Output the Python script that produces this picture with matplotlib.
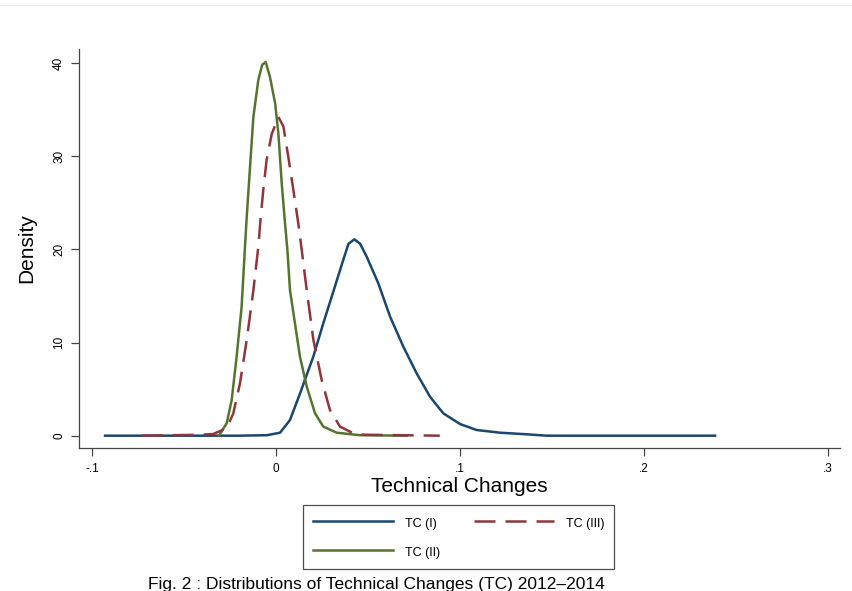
import numpy as np
import matplotlib
matplotlib.use("Agg")
import matplotlib.pyplot as plt
from matplotlib.lines import Line2D

plt.rcParams['font.family'] = ['Liberation Sans', 'DejaVu Sans']

# kernel density curves
tc1_x = [-0.0929, -0.02, -0.005, 0.0022, 0.0076, 0.013, 0.0203, 0.0257, 0.0312,
         0.0366, 0.0394, 0.0426, 0.0457, 0.0493, 0.0556, 0.062, 0.0692, 0.0764,
         0.0837, 0.0909, 0.1, 0.109, 0.1217, 0.1362, 0.147, 0.2386]
tc1_y = [0, 0, 0.05, 0.32, 1.68, 4.5, 8.5, 12.06, 15.5, 18.9, 20.6, 21.07, 20.6,
         19.2, 16.35, 12.77, 9.55, 6.7, 4.18, 2.4, 1.25, 0.61, 0.32, 0.15, 0, 0]

tc2_x = [-0.031, -0.0268, -0.0241, -0.0214, -0.0187, -0.0168, -0.0159, -0.0141,
         -0.0123, -0.0096, -0.0075, -0.0056, -0.0033, -0.0005, 0.0013, 0.0031,
         0.0049, 0.0062, 0.0076, 0.0103, 0.013, 0.0167, 0.0212, 0.0257, 0.033,
         0.0457, 0.071]
tc2_y = [0, 1.33, 3.8, 8.5, 13.8, 20.5, 23.5, 28.9, 34.2, 38.2, 39.8, 40.1, 38.5,
         35.7, 32.4, 27.1, 22.8, 19.9, 15.6, 12.06, 8.5, 5.26, 2.4, 0.97, 0.32,
         0.05, 0]

tc3_x = [-0.073, -0.0413, -0.0341, -0.0268, -0.0232, -0.0196, -0.0159, -0.0123,
         -0.0096, -0.0083, -0.0069, -0.0051, -0.0023, 0.0013, 0.004, 0.0067,
         0.0094, 0.0121, 0.014, 0.0167, 0.0203, 0.0248, 0.0293, 0.0348, 0.042,
         0.048, 0.089]
tc3_y = [0, 0.1, 0.18, 0.8, 2.4, 5.6, 10.3, 15.6, 20.3, 23.5, 26.4, 29.6, 32.4,
         34.2, 33.2, 29.9, 26.4, 22.8, 19.9, 15.6, 10.3, 6.0, 2.76, 0.97, 0.26,
         0.1, 0]

x_ticks = [-0.1, 0, 0.1, 0.2, 0.3]
x_labels = ['-.1', '0', '.1', '.2', '.3']
y_ticks = [0, 10, 20, 30, 40]

navy = '#1a476f'
maroon = '#90353b'
green = '#55752f'

fig = plt.figure(figsize=(8.53, 5.91), dpi=100)
ax = fig.add_axes([0.0926, 0.2420, 0.8922, 0.6751])

ax.plot(tc1_x, tc1_y, color=navy, lw=1.8, label='TC (I)')
ax.plot(tc2_x, tc2_y, color=green, lw=1.8, label='TC (II)')
ax.plot(tc3_x, tc3_y, color=maroon, lw=1.8, dashes=(8.4, 4), label='TC (III)')

ax.set_xlim(-0.10707, 0.30652)
ax.set_ylim(-1.32, 41.5)
ax.set_xticks(x_ticks)
ax.set_xticklabels(x_labels)
ax.set_yticks(y_ticks)
ax.tick_params(axis='both', labelsize=8.5, length=6, width=0.9, color='#444444', pad=4)
ax.tick_params(axis='x', pad=5)
ax.tick_params(axis='y', labelrotation=90)
for lab in ax.get_yticklabels():
    lab.set_va('center')

for side in ['top', 'right']:
    ax.spines[side].set_visible(False)
for side in ['left', 'bottom']:
    ax.spines[side].set_color('#444444')
    ax.spines[side].set_linewidth(0.9)

ax.set_xlabel('Technical Changes', fontsize=15, labelpad=1)
ax.set_ylabel('Density', fontsize=15, labelpad=12)

leg = fig.legend(loc='upper left', bbox_to_anchor=(303 / 853, 1 - 505 / 591),
                 ncol=2, fontsize=9, frameon=True, fancybox=False,
                 edgecolor='#222222', handlelength=6.4, handleheight=1.45,
                 handletextpad=0.95, labelspacing=1.15, columnspacing=2.7,
                 borderpad=0.8, borderaxespad=0)
leg.get_frame().set_linewidth(0.9)

fig.text(376 / 853, 1 - 585 / 591, 'Fig. 2 : Distributions of Technical Changes (TC) 2012–2014',
         ha='center', va='center', fontsize=12.5)

fig.add_artist(Line2D([0, 1], [1 - 5 / 591, 1 - 5 / 591], color='#eeeeee', lw=0.8,
                      transform=fig.transFigure))

fig.savefig('out.png', dpi=100)
